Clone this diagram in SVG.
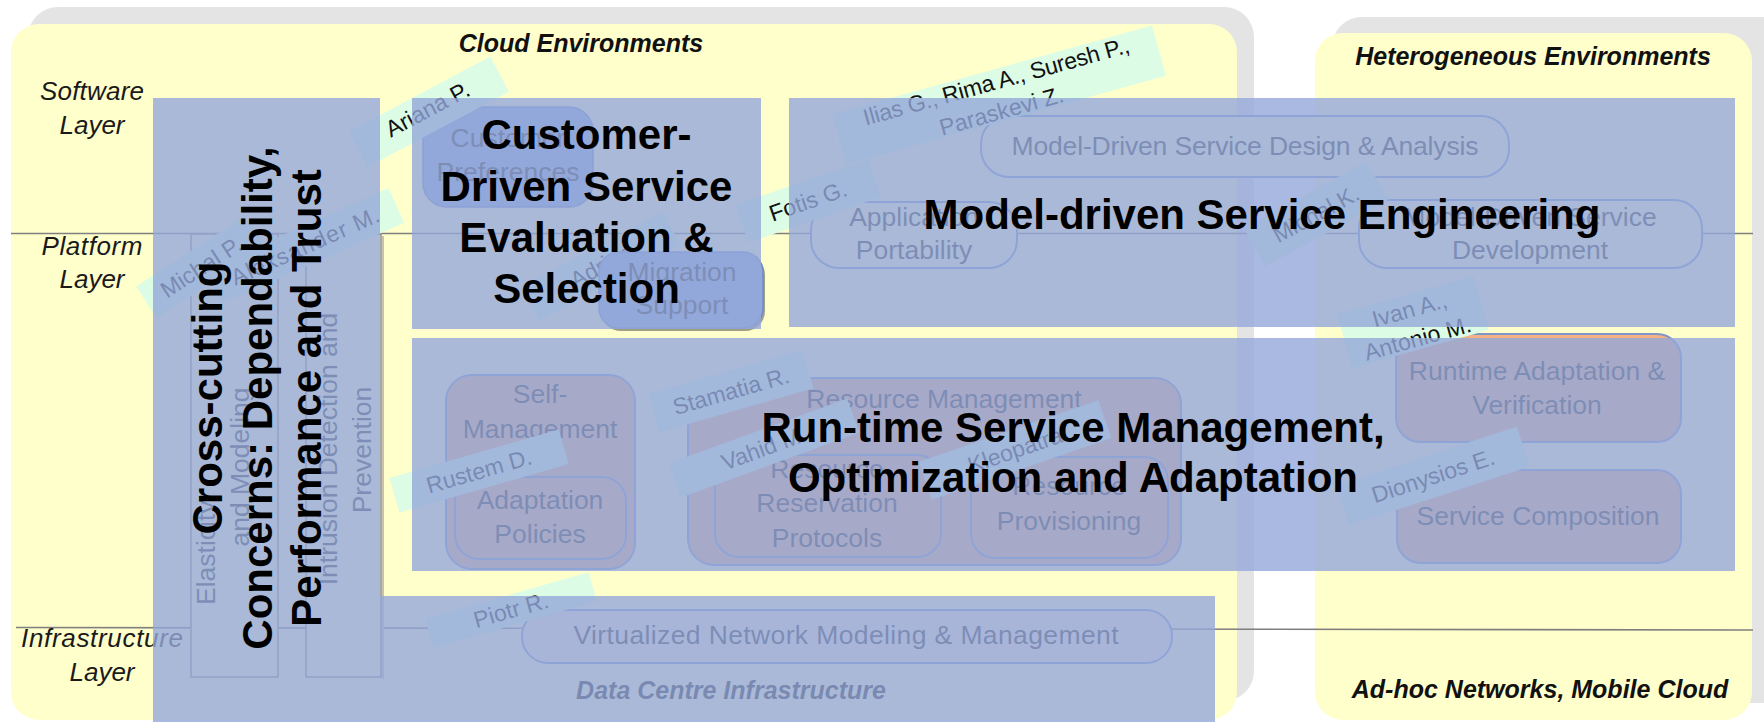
<svg xmlns="http://www.w3.org/2000/svg" width="1764" height="722" viewBox="0 0 1764 722">
<style>
.shadow{fill:#E4E4E4}
.panel{fill:#FFFFCC}
.sep{stroke:#7F7F7F;stroke-width:1.6;fill:none}
.layer{font-family:"Liberation Sans",Arial,sans-serif;font-style:italic;font-size:26px;fill:#1a1a1a;text-anchor:middle}
.env{font-family:"Liberation Sans",Arial,sans-serif;font-style:italic;font-weight:bold;font-size:25px;fill:#111;text-anchor:middle}
.lbl{font-family:"Liberation Sans",Arial,sans-serif;font-size:26.5px;fill:#262626;text-anchor:middle}
.st{text-anchor:start}
.mbox{fill:#FFFFCC;stroke:#7F97C8;stroke-width:2}
.rbox{fill:#F4B183;stroke:#7F97C8;stroke-width:2}
.bbox{fill:#8FAADC;stroke:#6F8CC6;stroke-width:1.5}
.cbox{fill:#FFFFCC;stroke:#8C8C8C;stroke-width:1.5}
.tag{fill:#DCFCE6}
.name{font-family:"Liberation Sans",Arial,sans-serif;font-size:23px;fill:#111;text-anchor:middle}
.ov{fill:#94A8D9;fill-opacity:0.8}
.title{font-family:"Liberation Sans",Arial,sans-serif;font-weight:bold;font-size:42px;fill:#000;text-anchor:middle}
</style>
<rect width="1764" height="722" fill="#FFFFFF"/>
<g id="panels">
<rect class="shadow" x="28" y="7" width="1226" height="694" rx="30"/>
<rect class="shadow" x="1332" y="17" width="460" height="686" rx="30"/>
<rect class="panel" x="11" y="24" width="1226" height="696" rx="28"/>
<rect class="panel" x="1315" y="33" width="437" height="687" rx="28"/>
</g>
<g id="connectors">
<line class="sep" x1="11" y1="233.5" x2="1753" y2="233.5"/>
<line class="sep" x1="16" y1="627.5" x2="1753" y2="630"/>
</g>
<g id="layer-labels">
<text class="layer" x="92" y="100" textLength="104">Software</text>
<text class="layer" x="92" y="134">Layer</text>
<text class="layer" x="92" y="255" textLength="101">Platform</text>
<text class="layer" x="92" y="288">Layer</text>
<text class="layer" x="102" y="647" textLength="162">Infrastructure</text>
<text class="layer" x="102" y="681">Layer</text>
</g>
<g id="environment-titles">
<text class="env" x="581" y="52" font-size="24.5">Cloud Environments</text>
<text class="env" x="1533" y="65">Heterogeneous Environments</text>
<text class="env" x="1540" y="698">Ad-hoc Networks, Mobile Cloud</text>
<text class="env" x="731" y="699">Data Centre Infrastructure</text>
</g>
<g id="elasticity">
<rect class="cbox" x="191" y="234" width="87" height="443"/>
<text class="lbl st" transform="translate(215,605) rotate(-90)">Elasticity</text>
<text class="lbl" transform="translate(249,467) rotate(-90)">and Modeling</text>
</g>
<g id="intrusion">
<rect class="cbox" x="306" y="234" width="75" height="443"/>
<line x1="383" y1="236" x2="383" y2="679" stroke="#C8C0B0" stroke-width="2"/>
<text class="lbl" transform="translate(337,449) rotate(-90)">Intrusion Detection and</text>
<text class="lbl" transform="translate(371,450) rotate(-90)">Prevention</text>
</g>
<g id="customer-preferences">
<rect class="bbox" x="423" y="107" width="170" height="100" rx="24"/>
<text class="lbl" x="508" y="147">Customer</text>
<text class="lbl" x="508" y="181">Preferences</text>
</g>
<g id="tag-adrian" transform="translate(601,266) rotate(-28)">
<rect class="tag" x="-80" y="-19" width="160" height="38"/>
<text class="name" x="0" y="8">Adrian</text>
</g>
<g id="migration-support">
<rect x="601" y="255" width="164" height="76" rx="20" fill="#404040" opacity="0.5"/>
<rect class="bbox" x="599" y="252" width="164" height="76" rx="20"/>
<text class="lbl" x="682" y="281">Migration</text>
<text class="lbl" x="682" y="314">Support</text>
</g>
<g id="md-design">
<rect class="mbox" x="981" y="116" width="528" height="61" rx="28"/>
<text class="lbl" x="1245" y="155" textLength="467">Model-Driven Service Design &amp; Analysis</text>
</g>
<g id="app-portability">
<rect class="mbox" x="811" y="202" width="206" height="66" rx="28"/>
<text class="lbl" x="914" y="226">Application</text>
<text class="lbl" x="914" y="259">Portability</text>
</g>
<g id="md-development">
<rect class="mbox" x="1359" y="200" width="343" height="68" rx="28"/>
<text class="lbl" x="1530" y="226">Model-Driven Service</text>
<text class="lbl" x="1530" y="259">Development</text>
</g>
<g id="self-management">
<rect class="rbox" x="446" y="375" width="189" height="194" rx="26"/>
<text class="lbl" x="540" y="403">Self-</text>
<text class="lbl" x="540" y="438">Management</text>
</g>
<g id="adaptation-policies">
<rect class="rbox" x="455" y="477" width="171" height="82" rx="24"/>
<text class="lbl" x="540" y="509">Adaptation</text>
<text class="lbl" x="540" y="543">Policies</text>
</g>
<g id="resource-management">
<rect class="rbox" x="688" y="378" width="493" height="187" rx="26"/>
<text class="lbl" x="944" y="408">Resource Management</text>
</g>
<g id="resource-reservation">
<rect class="rbox" x="715" y="455" width="226" height="102" rx="24"/>
<text class="lbl" x="827" y="478">Resource</text>
<text class="lbl" x="827" y="512">Reservation</text>
<text class="lbl" x="827" y="547">Protocols</text>
</g>
<g id="resource-provisioning">
<rect class="rbox" x="971" y="457" width="197" height="101" rx="24"/>
<text class="lbl" x="1069" y="495">Resource</text>
<text class="lbl" x="1069" y="530">Provisioning</text>
</g>
<g id="runtime-adaptation">
<rect class="rbox" x="1396" y="334" width="285" height="108" rx="24"/>
<text class="lbl" x="1537" y="380">Runtime Adaptation &amp;</text>
<text class="lbl" x="1537" y="414">Verification</text>
</g>
<g id="service-composition">
<rect class="rbox" x="1397" y="470" width="284" height="93" rx="24"/>
<text class="lbl" x="1538" y="525">Service Composition</text>
</g>
<g id="virtualized-network">
<rect x="522" y="610" width="650" height="53" rx="26" fill="#F7EBD5" stroke="#7F97C8" stroke-width="2"/>
<text class="lbl" x="846" y="644" textLength="545">Virtualized Network Modeling &amp; Management</text>
</g>
<g id="tag-ariana" transform="translate(428,110) rotate(-28)">
<rect class="tag" x="-80" y="-18" width="160" height="40"/>
<text class="name" x="0" y="7">Ariana P.</text>
</g>
<g id="tag-michal-p" transform="translate(201,267) rotate(-33)">
<rect class="tag" x="-65" y="-19" width="130" height="38"/>
<text class="name" x="0" y="8">Michal P.</text>
</g>
<g id="tag-aleksander" transform="translate(305,246) rotate(-24)">
<rect class="tag" x="-100" y="-19" width="200" height="38"/>
<text class="name" x="0" y="8" textLength="160">Aleksander M.</text>
</g>
<g id="tag-fotis" transform="translate(808,201) rotate(-19)">
<rect class="tag" x="-70" y="-20" width="140" height="40"/>
<text class="name" x="0" y="8">Fotis G.</text>
</g>
<g id="tag-ilias" transform="translate(999,95) rotate(-15.5)">
<rect class="tag" x="-166" y="-26" width="332" height="52"/>
<text class="name" x="1" y="-6" textLength="275">Ilias G., Rima A., Suresh P.,</text>
<text class="name" x="-2" y="24">Paraskevi Z.</text>
</g>
<g id="tag-michal-k" transform="translate(1316,214) rotate(-28.5)">
<rect class="tag" x="-70" y="-22" width="140" height="44"/>
<text class="name" x="0" y="8">Michal K.</text>
</g>
<g id="tag-ivan" transform="translate(1413,322) rotate(-15.5)">
<rect class="tag" x="-71" y="-28" width="142" height="56"/>
<text class="name" x="0" y="-5">Ivan A.,</text>
<text class="name" x="0" y="25">Antonio M.</text>
</g>
<g id="tag-stamatia" transform="translate(731,391) rotate(-16)">
<rect class="tag" x="-80" y="-20" width="160" height="40"/>
<text class="name" x="0" y="8">Stamatia R.</text>
</g>
<g id="tag-rustem" transform="translate(479,471) rotate(-16)">
<rect class="tag" x="-88" y="-18" width="176" height="36"/>
<text class="name" x="0" y="8">Rustem D.</text>
</g>
<g id="tag-vahid" transform="translate(764,448) rotate(-20)">
<rect class="tag" x="-95" y="-18" width="190" height="36"/>
<text class="name" x="0" y="8">Vahid M.</text>
</g>
<g id="tag-kleopatra" transform="translate(1015,450) rotate(-19)">
<rect class="tag" x="-95" y="-20" width="190" height="40"/>
<text class="name" x="0" y="8">Kleopatra</text>
</g>
<g id="tag-dionysios" transform="translate(1433,476) rotate(-18)">
<rect class="tag" x="-95" y="-21" width="190" height="42"/>
<text class="name" x="0" y="8">Dionysios E.</text>
</g>
<g id="tag-piotr" transform="translate(511,610) rotate(-16)">
<rect class="tag" x="-85" y="-15" width="170" height="30"/>
<text class="name" x="0" y="8">Piotr R.</text>
</g>
<g id="cross-cutting">
<rect class="ov" x="153" y="98" width="227" height="624"/>
<text class="title" font-size="42.5" transform="translate(222,398) rotate(-90)">Cross-cutting</text>
<text class="title" font-size="42.5" transform="translate(272,398) rotate(-90)">Concerns: Dependability,</text>
<text class="title" font-size="42.5" transform="translate(321,398) rotate(-90)">Performance and Trust</text>
</g>
<g id="customer-driven">
<rect class="ov" x="412" y="98" width="349" height="231"/>
<text class="title" x="586.5" y="149">Customer-</text>
<text class="title" x="586.5" y="200.5">Driven Service</text>
<text class="title" x="586.5" y="252">Evaluation &amp;</text>
<text class="title" x="586.5" y="303">Selection</text>
</g>
<g id="model-driven">
<rect class="ov" x="789" y="98" width="946" height="229"/>
<text class="title" x="1262" y="229">Model-driven Service Engineering</text>
</g>
<g id="run-time">
<rect class="ov" x="412" y="338" width="1323" height="233"/>
<text class="title" x="1073" y="442">Run-time Service Management,</text>
<text class="title" x="1073" y="492">Optimization and Adaptation</text>
</g>
<g id="infrastructure-overlay">
<rect class="ov" x="380" y="596" width="835" height="126"/>
</g>
</svg>
